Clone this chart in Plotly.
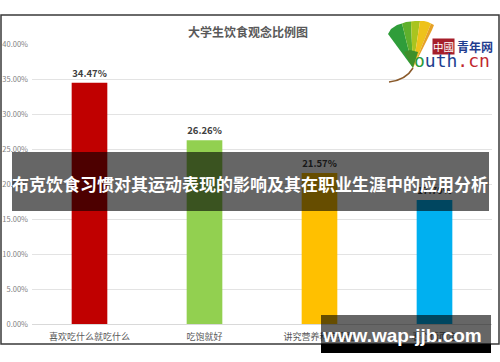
import plotly.graph_objects as go

# ---------------- data ----------------
categories = ["喜欢吃什么就吃什么", "吃饱就好", "讲究营养科学搭配", "看心情而定"]
values = [34.47, 26.26, 21.57, 17.70]
bar_colors = ["#C00000", "#92D050", "#FFC000", "#00B0F0"]
y_ticks = [0, 5, 10, 15, 20, 25, 30, 35, 40]
y_tick_labels = [f"{v:.2f}%" for v in y_ticks]
chart_title = "大学生饮食观念比例图"
banner_text = "布克饮食习惯对其运动表现的影响及其在职业生涯中的应用分析"
watermark_text = "www.wap-jjb.com"

W, H = 500, 362
FONT = "Noto Sans CJK SC"


def px(x):
    return x / W


def py(y):
    return 1 - y / H


def path(points):
    s = "M " + " L ".join(f"{px(x):.5f},{py(y):.5f}" for x, y in points) + " Z"
    return s


fig = go.Figure()
fig.add_trace(go.Bar(
    x=categories,
    y=values,
    marker=dict(color=bar_colors, line=dict(width=0)),
    width=0.31,
    text=[f"<b>{v:.2f}%</b>" for v in values],
    textposition="outside",
    textfont=dict(family=FONT, size=9.5, color="#404040"),
    constraintext="none",
    cliponaxis=False,
    hoverinfo="skip",
))

shapes = []
# chart frame
shapes.append(dict(type="rect", xref="paper", yref="paper",
                   x0=px(1), x1=px(499), y0=py(344), y1=py(15),
                   line=dict(color="#3a3a3a", width=1.5), fillcolor="rgba(0,0,0,0)",
                   layer="below"))

# logo leaf (ginkgo) wedges
A = (413, 68)
wedges = [
    ("#2f9d3a", [A, (388, 34), (391, 29), (397, 25), (402, 23.5)]),
    ("#5fb02c", [A, (402, 23.5), (406, 22), (411, 21.5)]),
    ("#a9c41f", [A, (411, 21.5), (415, 21), (420, 21)]),
    ("#eec21a", [A, (420, 21), (424, 21), (428, 22), (431, 23.5)]),
    ("#e6a126", [A, (431, 23.5), (434, 25), (432, 30), (428, 38), (422, 50)]),
]
for col, pts in wedges:
    shapes.append(dict(type="path", xref="paper", yref="paper", path=path(pts),
                       fillcolor=col, line=dict(width=0), layer="above"))
# darker lower portion of leaf
shapes.append(dict(type="path", xref="paper", yref="paper",
                   path=path([A, (404, 52), (410, 50), (418, 52)]),
                   fillcolor="#3f8f2a", line=dict(width=0), layer="above"))
# stem
shapes.append(dict(type="path", xref="paper", yref="paper",
                   path=f"M {px(413):.5f},{py(68):.5f} Q {px(406):.5f},{py(80):.5f} {px(389):.5f},{py(82):.5f}",
                   line=dict(color="#8a5a2b", width=1.5), layer="above"))

# banner
shapes.append(dict(type="rect", xref="paper", yref="paper",
                   x0=px(12), x1=px(489), y0=py(211), y1=py(152),
                   fillcolor="rgba(0,0,0,0.6)", line=dict(width=0), layer="above"))
# watermark box
shapes.append(dict(type="rect", xref="paper", yref="paper",
                   x0=px(321), x1=px(491), y0=py(344), y1=py(315),
                   fillcolor="rgba(0,0,0,0.6)", line=dict(width=0), layer="above"))
shapes.append(dict(type="rect", xref="paper", yref="paper",
                   x0=px(321), x1=px(491), y0=py(353), y1=py(344),
                   fillcolor="#000000", line=dict(width=0), layer="above"))


def ann(text, x, y, font, **kw):
    d = dict(text=text, x=px(x), y=py(y), xref="paper", yref="paper",
             xanchor="center", yanchor="middle", showarrow=False, font=font)
    d.update(kw)
    return d


annotations = [
    ann(f"<b>{chart_title}</b>", 248, 31, dict(family=FONT, size=12, color="#595959")),
    ann(f"<b>{banner_text}</b>", 250, 183, dict(family=FONT, size=17, color="#ffffff")),
    ann(f"<b>{watermark_text}</b>", 402, 335,
        dict(family="Liberation Sans", size=19, color="#ffffff")),
    ann("中國", 443.5, 46, dict(family=FONT, size=10.5, color="#ffffff"),
        bgcolor="#a61e2a", borderpad=0),
    ann("<b>青年网</b>", 474.5, 46, dict(family=FONT, size=12, color="#1f3d8f")),
    ann("<span style='color:#2a9a3a'>o</span><span style='color:#1f3f8f'>uth</span>"
        "<span style='color:#c0272d'>.cn</span>", 452, 61,
        dict(family="DejaVu Sans Mono", size=18)),
]

fig.update_layout(
    width=W, height=H,
    margin=dict(l=0, r=0, t=0, b=0, pad=0, autoexpand=False),
    paper_bgcolor="#ffffff",
    plot_bgcolor="#ffffff",
    showlegend=False,
    bargap=0.69,
    shapes=shapes,
    annotations=annotations,
    xaxis=dict(
        domain=[px(32), px(492)], automargin=False,
        showgrid=False, showline=True, linecolor="#d9d9d9", linewidth=1,
        ticks="", tickfont=dict(family=FONT, size=9, color="#595959"),
        ticklabelstandoff=4, fixedrange=True,
    ),
    yaxis=dict(
        domain=[py(324), py(44)], automargin=False,
        range=[0, 40],
        tickvals=y_ticks, ticktext=y_tick_labels,
        showgrid=True, gridcolor="#e3e3e3", gridwidth=1,
        zeroline=False, showline=False, ticks="",
        tickfont=dict(family=FONT, size=7.5, color="#7f7f7f"),
        ticklabelstandoff=3, fixedrange=True,
    ),
)

fig.write_html("out.html", config={"displayModeBar": False},
               post_script="document.body.style.margin='0px';document.body.style.padding='0px';")
